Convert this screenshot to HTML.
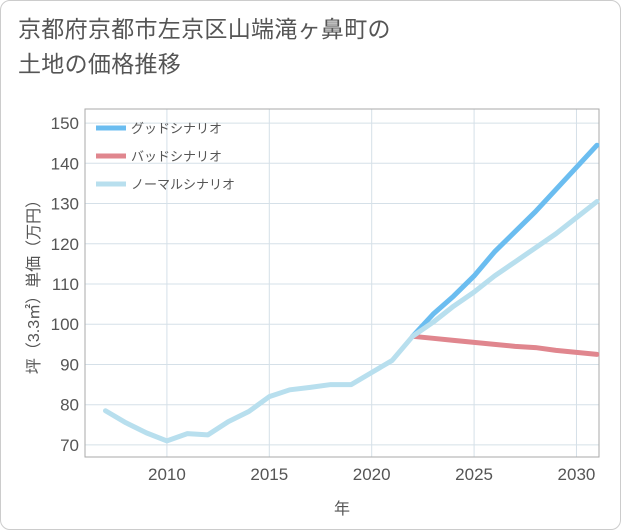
<!DOCTYPE html>
<html><head><meta charset="utf-8"><style>
body{margin:0;background:#fff;font-family:"Liberation Sans","Noto Sans CJK JP",sans-serif;}
#wrap{position:relative;width:619px;height:528px;border:1px solid #ccc;border-radius:10px;overflow:hidden;background:#fff}
#title{position:absolute;left:17px;top:11px;font-size:23px;line-height:35px;color:#555;letter-spacing:0.3px}
svg{position:absolute;left:0;top:0}
</style></head><body>
<div id="wrap">
<div id="title">京都府京都市左京区山端滝ヶ鼻町の<br>土地の価格推移</div>
<svg id="chart" width="621" height="530"></svg>
</div>
<script>
const years=[2007,2008,2009,2010,2011,2012,2013,2014,2015,2016,2017,2018,2019,2020,2021,2022,2023,2024,2025,2026,2027,2028,2029,2030,2031];
const normal=[78.5,75.5,73,71,72.8,72.5,75.8,78.3,82,83.7,84.3,85,85,88,91,97,100.5,104.5,108,112,115.5,119,122.5,126.5,130.5];
const futureYears=[2022,2023,2024,2025,2026,2027,2028,2029,2030,2031];
const good=[97,102.5,107,112,118,123,128,133.5,139,144.5];
const bad=[97,96.5,96,95.5,95,94.5,94.2,93.5,93,92.5];
const xTicks=[2010,2015,2020,2025,2030];
const yTicks=[70,80,90,100,110,120,130,140,150];
const legendLabels=["グッドシナリオ","バッドシナリオ","ノーマルシナリオ"];
const colors=["#6bbdf0","#e0868e","#b8dfee"];

const L=84,R=598,T=108,B=456;
const x=v=>L+(v-2006)*(R-L)/(2031.1-2006);
const y=v=>B-(v-67)*(B-T)/(153.5-67);
const svg=document.getElementById('chart');
const NS='http://www.w3.org/2000/svg';
function mk(tag,attrs){const e=document.createElementNS(NS,tag);for(const k in attrs)e.setAttribute(k,attrs[k]);svg.appendChild(e);return e;}

xTicks.forEach(t=>{
 const g=mk('line',{x1:x(t),x2:x(t),y1:T,y2:B,stroke:'#d5e0e8','stroke-width':1});
 
 
 const tx=mk('text',{x:x(t),y:B+23,'text-anchor':'middle','font-size':17,fill:'#555'});
 tx.textContent=t;
 
 
});
yTicks.forEach(t=>{
 const g=mk('line',{x1:L,x2:R,y1:y(t),y2:y(t),stroke:'#d5e0e8','stroke-width':1});
 
 
 const tx=mk('text',{x:L-6,y:y(t)+6,'text-anchor':'end','font-size':17,fill:'#555'});
 tx.textContent=t;
 
 
});
const fr=mk('rect',{x:L,y:T,width:R-L,height:B-T,fill:'none',stroke:'#aaa','stroke-width':1});



function line(xs,vs,c,name){
 const p=mk('polyline',{points:xs.map((v,i)=>x(v)+','+y(vs[i])).join(' '),fill:'none',stroke:c,'stroke-width':5,'stroke-linejoin':'round','stroke-linecap':'round'});
 
 
}
line(futureYears,bad,colors[1],'bad-scenario-line');
line(futureYears,good,colors[0],'good-scenario-line');
line(years,normal,colors[2],'normal-scenario-line');

legendLabels.forEach((lab,i)=>{
 const ly=127+i*28;
 const l=mk('line',{x1:95,x2:125,y1:ly,y2:ly,stroke:colors[i],'stroke-width':5});
 
 
 const t=mk('text',{x:130,y:ly+5,'font-size':13,fill:'#555'});
 t.textContent=lab;
 
 
});
const yt=mk('text',{x:0,y:0,'font-size':16,fill:'#555','text-anchor':'middle',transform:'translate(38,'+((T+B)/2)+') rotate(-90)'});
yt.textContent='坪（3.3㎡）単価（万円）';


const xt=mk('text',{x:(L+R)/2,y:513,'font-size':16,fill:'#555','text-anchor':'middle'});
xt.textContent='年';


</script>
</body></html>
